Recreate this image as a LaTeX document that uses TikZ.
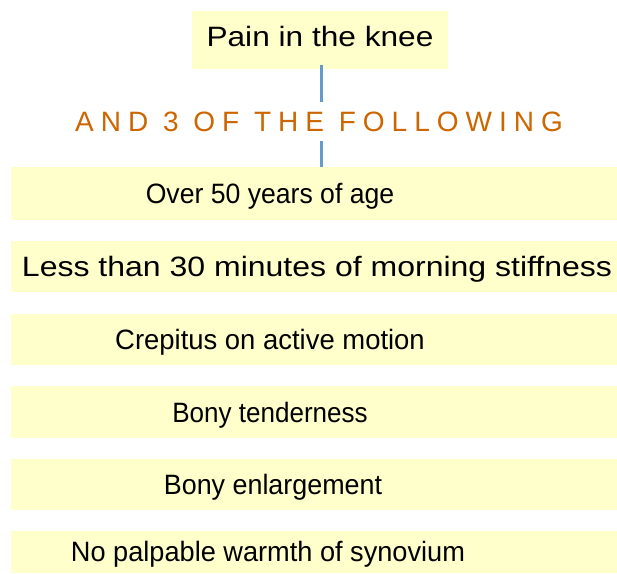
\documentclass[tikz,border=0pt]{standalone}
\usepackage{fontspec}
\setmainfont{Liberation Sans}
\definecolor{boxfill}{HTML}{FFFFCC}
\definecolor{linkblue}{HTML}{6699CC}
\definecolor{headorange}{HTML}{CC6600}
\newcommand{\sx}[2]{\scalebox{#1}[1]{#2}}
\begin{document}
\begin{tikzpicture}[x=1pt,y=-1pt,
  box/.style={draw=none,fill=boxfill,inner sep=0pt,minimum width=606pt},
  txt/.style={inner sep=0pt,anchor=base,font=\fontsize{28}{32}\selectfont,text=black},
  head/.style={inner sep=0pt,font=\fontsize{28}{32}\selectfont\addfontfeature{LetterSpace=25},text=headorange,minimum height=39pt},
  link/.style={draw=linkblue,line width=3pt}]
\useasboundingbox (0,0) rectangle (617,573);
\node[box,minimum width=256pt,minimum height=58pt] (b0) at (320,40) {};
\node[txt] (t0) at (320,46.5) {\sx{1.13}{Pain in the knee}};
\node[head] (h) at (319,121.5) {AND 3 OF THE FOLLOWING};
\node[box,minimum height=53pt] (b1) at (314,193.5) {};
\node[txt] (t1) at (270,203.5) {\sx{0.95}{Over 50 years of age}};
\node[box,minimum height=51pt] (b2) at (314,266.5) {};
\node[txt] (t2) at (317,276.5) {\sx{1.143}{Less than 30 minutes of morning stiffness}};
\node[box,minimum height=51pt] (b3) at (314,339.5) {};
\node[txt] (t3) at (270,349.5) {\sx{0.98}{Crepitus on active motion}};
\node[box,minimum height=52pt] (b4) at (314,412) {};
\node[txt] (t4) at (270,422) {\sx{0.93}{Bony tenderness}};
\node[box,minimum height=51pt] (b5) at (314,484.5) {};
\node[txt] (t5) at (273,494.5) {\sx{0.96}{Bony enlargement}};
\node[box,minimum height=42pt] (b6) at (314,552) {};
\node[txt] (t6) at (268,561.5) {\sx{0.97}{No palpable warmth of synovium}};
\draw[link] (321,65) -- (h.north -| 321,0);
\draw[link] (h.south -| 321,0) -- (b1.north -| 321,0);
\end{tikzpicture}
\end{document}
